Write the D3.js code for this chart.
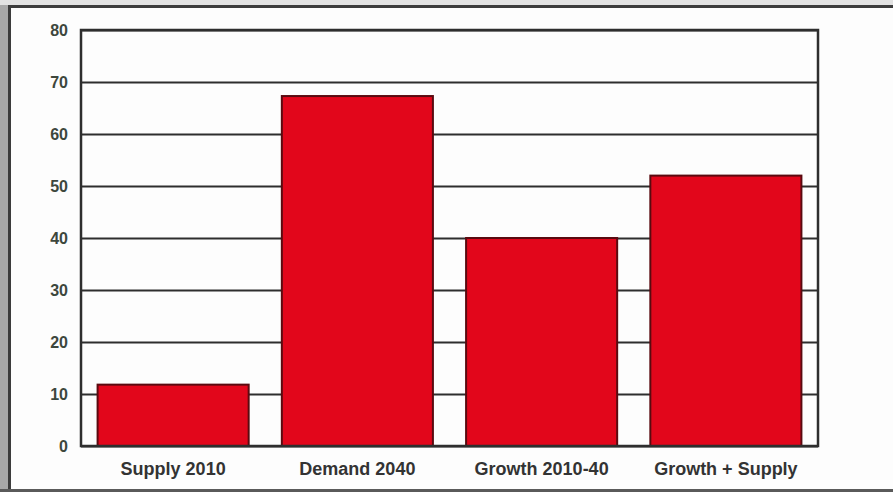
<!DOCTYPE html>
<html><head><meta charset="utf-8">
<script src="https://cdn.jsdelivr.net/npm/d3@7"></script>
<style>
html,body{margin:0;padding:0;background:#fff;}
svg{display:block;}
</style></head>
<body>
<svg id="chart" width="893" height="492"></svg>
<script>
const categories = ["Supply 2010", "Demand 2040", "Growth 2010-40", "Growth + Supply"];
const values = [11.8, 67.3, 40, 52];
const tickValues = [0, 10, 20, 30, 40, 50, 60, 70, 80];

const svg = d3.select("#chart");
const W = 893, H = 492;
const margin = {left: 81, right: 75, top: 30, bottom: 46};

// outer screenshot frame
svg.append("rect").attr("x", 0).attr("y", 0).attr("width", W).attr("height", H).attr("fill", "#fdfdfd");
svg.append("rect").attr("x", 0).attr("y", 0).attr("width", 8).attr("height", H).attr("fill", "#a8a8a8");
svg.append("rect").attr("x", 0).attr("y", 0).attr("width", W).attr("height", 5).attr("fill", "#e2e2e2");
svg.append("line").attr("x1", 9).attr("x2", W).attr("y1", 6.5).attr("y2", 6.5).attr("stroke", "#3c3c3c").attr("stroke-width", 3);
svg.append("line").attr("x1", 9.5).attr("x2", 9.5).attr("y1", 5).attr("y2", H).attr("stroke", "#3c3c3c").attr("stroke-width", 3);
svg.append("rect").attr("x", 0).attr("y", 489).attr("width", W).attr("height", 3).attr("fill", "#5a5a5a");

const x = d3.scaleBand().domain(categories)
  .range([margin.left, W - margin.right])
  .paddingInner(0.18).paddingOuter(0.09);
const y = d3.scaleLinear().domain([0, 80]).range([H - margin.bottom, margin.top]);

// gridlines
svg.append("g").selectAll("line").data(tickValues).join("line")
  .attr("x1", margin.left).attr("x2", W - margin.right)
  .attr("y1", d => Math.round(y(d)) + 0.5).attr("y2", d => Math.round(y(d)) + 0.5)
  .attr("stroke", "#2e2e2e").attr("stroke-width", 2);

// bars
svg.append("g").selectAll("rect").data(values).join("rect")
  .attr("x", (d, i) => x(categories[i]))
  .attr("y", d => y(d))
  .attr("width", x.bandwidth())
  .attr("height", d => y(0) - y(d))
  .attr("fill", "#e2061b")
  .attr("stroke", "#5a0a10").attr("stroke-width", 2);

// plot frame
svg.append("rect")
  .attr("x", margin.left).attr("y", margin.top)
  .attr("width", W - margin.right - margin.left).attr("height", y(0) - margin.top)
  .attr("fill", "none").attr("stroke", "#2e2e2e").attr("stroke-width", 2.5);

// y axis labels
const yAxis = d3.axisLeft(y).tickValues(tickValues).tickSize(0).tickPadding(13);
const gy = svg.append("g").attr("transform", `translate(${margin.left},0)`).call(yAxis);
gy.select(".domain").remove();
gy.selectAll("text")
  .attr("font-family", "'Liberation Sans Narrow', 'Liberation Sans', Arial, sans-serif")
  .attr("font-weight", "bold").attr("font-size", 16).attr("fill", "#3d473d");

// x axis labels
const xAxis = d3.axisBottom(x).tickSize(0).tickPadding(16);
const gx = svg.append("g").attr("transform", `translate(0,${y(0)})`).call(xAxis);
gx.select(".domain").remove();
gx.selectAll("text")
  .attr("font-family", "'Liberation Sans Narrow', 'Liberation Sans', Arial, sans-serif")
  .attr("font-weight", "bold").attr("font-size", 18).attr("fill", "#333");
</script>
</body></html>
